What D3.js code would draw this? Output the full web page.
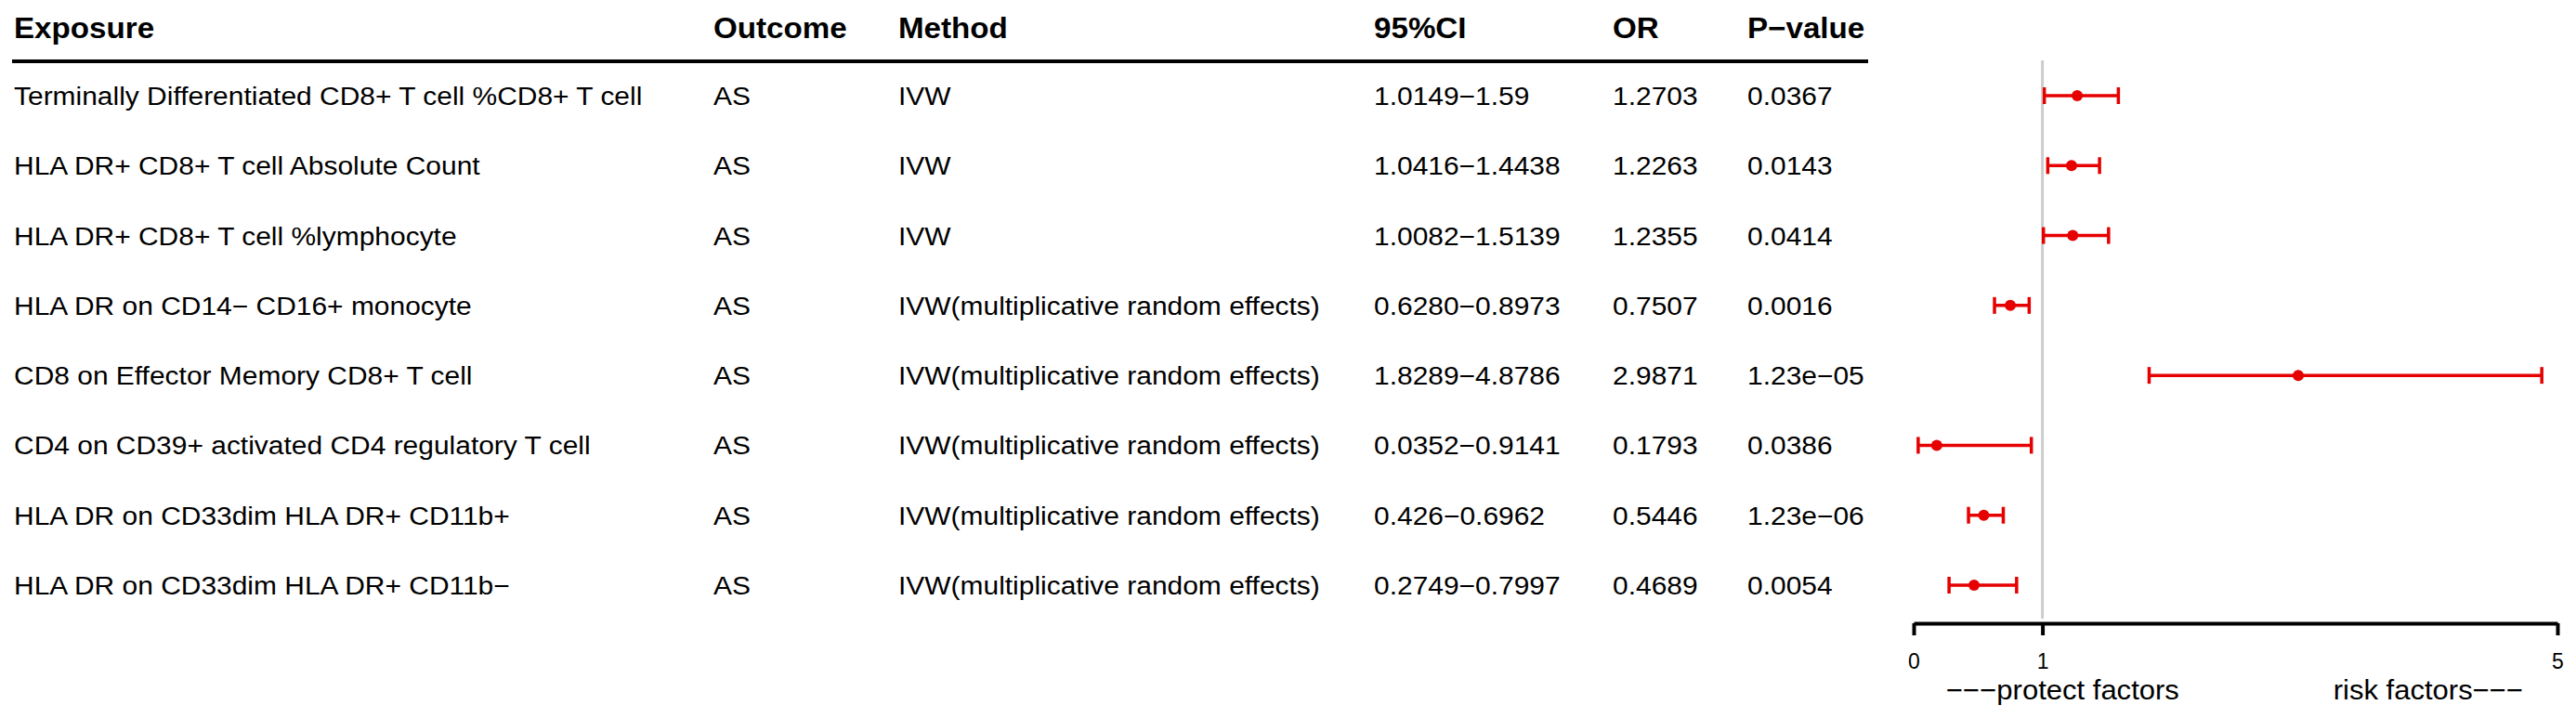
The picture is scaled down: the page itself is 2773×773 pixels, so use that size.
<!DOCTYPE html>
<html>
<head>
<meta charset="utf-8">
<title>Forest plot — AS</title>
<script src="https://cdn.jsdelivr.net/npm/d3@7"></script>
<style>
  html, body { margin: 0; padding: 0; background: #fff; }
  svg { display: block; }
  text { font-family: "Liberation Sans", Arial, Helvetica, sans-serif; fill: #000; }
</style>
</head>
<body>
<div id="chart"></div>
<script>
'use strict';

// ── Data ───────────────────────────────────────────────────────────────────
const headers = ['Exposure', 'Outcome', 'Method', '95%CI', 'OR', 'P\u2212value'];

const exposures = [
  'Terminally Differentiated CD8+ T cell %CD8+ T cell',
  'HLA DR+ CD8+ T cell Absolute Count',
  'HLA DR+ CD8+ T cell %lymphocyte',
  'HLA DR on CD14\u2212 CD16+ monocyte',
  'CD8 on Effector Memory CD8+ T cell',
  'CD4 on CD39+ activated CD4 regulatory T cell',
  'HLA DR on CD33dim HLA DR+ CD11b+',
  'HLA DR on CD33dim HLA DR+ CD11b\u2212',
];
const outcomes = ['AS', 'AS', 'AS', 'AS', 'AS', 'AS', 'AS', 'AS'];
const methods = [
  'IVW', 'IVW', 'IVW',
  'IVW(multiplicative random effects)',
  'IVW(multiplicative random effects)',
  'IVW(multiplicative random effects)',
  'IVW(multiplicative random effects)',
  'IVW(multiplicative random effects)',
];
const ciLabels = [
  '1.0149\u22121.59', '1.0416\u22121.4438', '1.0082\u22121.5139', '0.6280\u22120.8973',
  '1.8289\u22124.8786', '0.0352\u22120.9141', '0.426\u22120.6962', '0.2749\u22120.7997',
];
const orLabels = ['1.2703', '1.2263', '1.2355', '0.7507', '2.9871', '0.1793', '0.5446', '0.4689'];
const pLabels  = ['0.0367', '0.0143', '0.0414', '0.0016', '1.23e\u221205', '0.0386', '1.23e\u221206', '0.0054'];

const orValues = [1.2703, 1.2263, 1.2355, 0.7507, 2.9871, 0.1793, 0.5446, 0.4689];
const ciLower  = [1.0149, 1.0416, 1.0082, 0.6280, 1.8289, 0.0352, 0.426, 0.2749];
const ciUpper  = [1.59, 1.4438, 1.5139, 0.8973, 4.8786, 0.9141, 0.6962, 0.7997];

const axisTicks  = [0, 1, 5];
const axisDomain = [0, 5];
const refValue   = 1;
const sideLabels = ['\u2212\u2212\u2212protect factors', 'risk factors\u2212\u2212\u2212'];

// ── Layout ─────────────────────────────────────────────────────────────────
const W = 2773, H = 773;
const RED = '#e60000';
const STRETCH = 1.07;           // glyphs in the original are a touch wider than Arial
const colX = [15, 768, 967, 1479, 1736, 1881];

const svg = d3.select('#chart').append('svg')
  .attr('width', W).attr('height', H)
  .attr('viewBox', `0 0 ${W} ${H}`);

const rows = d3.range(exposures.length);
const y = d3.scalePoint().domain(rows).range([103, 630]);
const x = d3.scaleLinear().domain(axisDomain).range([2060, 2753]);

function label(parent, tx, ty, str, opts = {}) {
  parent.append('g')
    .attr('transform', `translate(${tx},${ty}) scale(${STRETCH},1)`)
    .append('text')
    .attr('font-size', opts.size || 28)
    .attr('font-weight', opts.bold ? 700 : 400)
    .attr('text-anchor', opts.anchor || 'start')
    .text(str);
}

// ── Table ──────────────────────────────────────────────────────────────────
const table = svg.append('g');
headers.forEach((h, i) => label(table, colX[i], 41, h, { size: 31, bold: true }));

table.append('line')
  .attr('x1', 13).attr('x2', 2011)
  .attr('y1', 66).attr('y2', 66)
  .attr('stroke', '#000').attr('stroke-width', 4);

const columns = [exposures, outcomes, methods, ciLabels, orLabels, pLabels];
rows.forEach(r => {
  columns.forEach((col, c) => label(table, colX[c], y(r) + 10, col[r]));
});

// ── Forest ─────────────────────────────────────────────────────────────────
const plot = svg.append('g');

plot.append('line')
  .attr('x1', x(refValue)).attr('x2', x(refValue))
  .attr('y1', 65).attr('y2', 666)
  .attr('stroke', '#cccccc').attr('stroke-width', 3);

const ci = plot.selectAll('.ci').data(rows).join('g').attr('class', 'ci')
  .attr('stroke', RED).attr('stroke-width', 3.5);

ci.append('line')
  .attr('x1', r => x(ciLower[r])).attr('x2', r => x(ciUpper[r]))
  .attr('y1', r => y(r)).attr('y2', r => y(r));
ci.append('line')
  .attr('x1', r => x(ciLower[r])).attr('x2', r => x(ciLower[r]))
  .attr('y1', r => y(r) - 9).attr('y2', r => y(r) + 9);
ci.append('line')
  .attr('x1', r => x(ciUpper[r])).attr('x2', r => x(ciUpper[r]))
  .attr('y1', r => y(r) - 9).attr('y2', r => y(r) + 9);

plot.selectAll('.pt').data(rows).join('circle').attr('class', 'pt')
  .attr('cx', r => x(orValues[r])).attr('cy', r => y(r))
  .attr('r', 6).attr('fill', RED);

// ── Axis ───────────────────────────────────────────────────────────────────
const axis = plot.append('g')
  .attr('transform', 'translate(0,671)')
  .call(d3.axisBottom(x).tickValues(axisTicks).tickFormat(d3.format('d'))
    .tickSize(13).tickSizeOuter(0).tickPadding(20));

axis.select('.domain').attr('stroke', '#000').attr('stroke-width', 4);
axis.selectAll('.tick line').attr('stroke', '#000').attr('stroke-width', 4);
axis.selectAll('.tick text')
  .attr('font-size', 23)
  .attr('font-family', '"Liberation Sans", Arial, sans-serif')
  .attr('fill', '#000');

label(plot, 2095, 753, sideLabels[0], { size: 29 });
label(plot, 2716, 753, sideLabels[1], { size: 29, anchor: 'end' });
</script>
</body>
</html>
